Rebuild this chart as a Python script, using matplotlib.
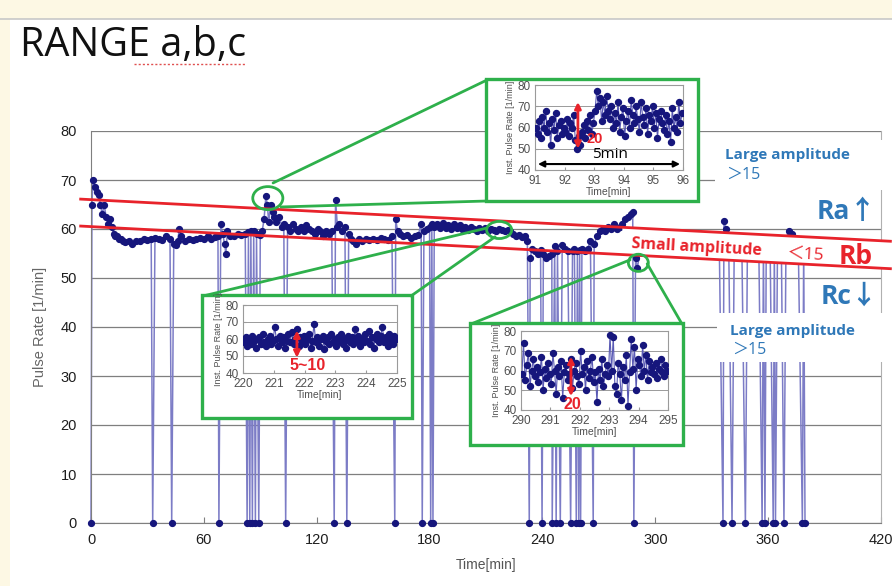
import numpy as np
import matplotlib.pyplot as plt
from matplotlib.patches import Rectangle, Ellipse, Polygon, ConnectionPatch
from matplotlib.lines import Line2D

W, H = 892, 586

# === 数据 ===
time_min = [
    0, 0.5, 1, 2, 3, 4, 5, 6, 7, 8,
    9, 10, 11, 12, 13, 14, 15, 16, 17, 18,
    20, 22, 24, 26, 28, 30, 32, 32.8, 34, 36,
    38, 40, 42, 42.9, 44, 45, 46, 47, 48, 50,
    52, 54, 56, 58, 60, 62, 64, 66, 67.5, 68,
    69, 70, 71, 71.7, 72.5, 74, 76, 78, 80, 82,
    83, 83.7, 84.4, 85, 85.8, 86.5, 87.4, 88, 89.2, 90,
    91, 92, 93, 93.7, 94.5, 95.5, 96.5, 97.5, 98.5, 100,
    101.5, 102.5, 103.5, 104.5, 106, 107.5, 109, 110, 111.5, 113,
    114.5, 116, 117.5, 119, 120.5, 122, 123.5, 125, 126.5, 128,
    129.3, 130, 131, 132, 133.5, 135, 136, 137, 138, 139.5,
    141, 142.5, 144, 146, 148, 150, 152, 154, 156, 158,
    160, 161.5, 162, 163, 164.5, 166, 168, 170, 172, 174,
    175.5, 176.1, 177, 178.5, 180, 180.6, 181.2, 181.8, 182.5, 184,
    185.5, 187, 188.5, 190, 191.5, 193, 194.5, 196, 197.5, 199,
    200.5, 202, 203.5, 205, 206.5, 208, 209.5, 211, 212.5, 214,
    215.5, 217, 218.5, 220, 221.5, 223, 224.5, 226, 227.5, 229,
    230.5, 232, 233, 233.5, 234.5, 236, 237.5, 239, 239.8, 240.5,
    242, 243.5, 245, 245.2, 246.5, 247.3, 248, 249.5, 250.5, 252,
    253.5, 255, 256, 257, 258, 258.6, 259.3, 259.8, 260.3, 261,
    262.5, 264, 265.5, 267, 267.5, 269, 270.5, 272, 273.5, 275,
    276.5, 278, 279.5, 281, 282.5, 284, 285.5, 287, 288, 288.6,
    289.5, 290.5, 292, 295, 298, 301, 304, 307, 310, 313,
    316, 319, 322, 325, 328, 331, 334, 336, 336.5, 337.5,
    339, 340.8, 342, 344, 346, 347.9, 349, 352, 355, 356.8,
    357.5, 358.3, 359, 361, 362.7, 363.3, 363.9, 365, 367, 368.4,
    369.5, 371, 372.5, 374, 376, 378.2, 378.9, 379.6,
]
pulse_rate = [
    0, 65, 70, 68.5, 67.5, 67, 65, 63, 65, 62.5,
    61, 62, 60.5, 59, 58.5, 58.5, 58, 58, 57.5, 57.3,
    57.5, 57, 57.5, 57.6, 58, 57.8, 58, 0, 58.2, 58,
    57.8, 58.5, 58, 0, 57, 56.8, 57.5, 60, 58.5, 57.5,
    58, 57.8, 58, 58.2, 58, 58.5, 58, 58.3, 58.5, 0,
    61, 59, 57, 55, 59.5, 58.5, 58.5, 59, 58.8, 59,
    0, 59.3, 0, 59.5, 0, 59.5, 0, 59, 0, 58.8,
    59.5, 62, 66.7, 65, 61.5, 65, 63.5, 62.5, 61.5, 62.5,
    60.5, 61, 0, 60.5, 59.5, 61, 60, 59.5, 60.5, 59.5,
    60.8, 60, 59.5, 59, 60, 59.5, 58.5, 59.5, 59, 59.5,
    0, 66, 60.5, 61, 59.5, 60.5, 0, 59, 58, 57.5,
    57, 58, 57.5, 58, 57.8, 58, 57.8, 58.2, 58, 57.8,
    58.5, 0, 62, 59.5, 59, 58.5, 58.8, 58.2, 58.5, 58.8,
    61, 0, 59.5, 60, 60.5, 0, 61, 0, 60.5, 61,
    60.2, 61.2, 60.3, 60.8, 60, 61, 60.2, 60.8, 60, 60.5,
    59.8, 60.5, 60, 59.6, 60.3, 59.8, 60.2, 59.5, 60, 59.8,
    59.6, 60, 59.7, 59.5, 59.8, 59.5, 59, 58.5, 58.7, 58.3,
    58.5, 57.5, 0, 54, 56, 55.5, 55, 55.8, 0, 55,
    54, 54.5, 55, 0, 56.5, 0, 55.5, 0, 56.8, 56,
    55.5, 0, 55.5, 56, 0, 55.5, 0, 55.8, 0, 56,
    55.5, 56, 57.5, 0, 57, 58.5, 59.5, 60, 59.5, 60.5,
    60, 61, 60, 60.5, 61, 62, 62.5, 63, 63.5, 0,
    54, 52, 56, 57, 57.5, 57, 57.5, 57, 57.5, 57,
    57.5, 57, 57.5, 57, 57.5, 57, 57.5, 0, 61.6, 60,
    58, 0, 58, 57.5, 57, 0, 57.5, 57, 57.5, 0,
    57, 0, 57.5, 58, 0, 57.5, 0, 58, 57.5, 0,
    58, 59.6, 59, 58, 57.5, 0, 57, 0,
]
assert len(time_min) == len(pulse_rate)

# zoomed windows (instantaneous pulse rate, evenly sampled)
zoomA_span = (91, 96)
zoomA_rate = [
    60, 57, 63, 55, 65, 60, 68, 58, 62,
    52, 64, 59, 67, 55, 61, 63, 57, 60,
    58, 64, 56, 62, 60, 66, 54, 50, 56,
    52, 58, 61, 55, 63, 59, 66, 57, 62,
    68, 77, 70, 74, 63, 72, 66, 75, 68,
    64, 70, 60, 67, 62, 72, 58, 65, 69,
    56, 63, 68, 60, 73, 66, 62, 70, 64,
    58, 72, 65, 61, 69, 57, 66, 63, 70,
    60, 67, 55, 64, 68, 62, 59, 66, 57,
    63, 53, 69, 60, 65, 58, 72, 62, 67,
]
zoomB_span = (220, 225)
zoomB_rate = [
    58, 61, 56, 60, 57, 62, 59, 55, 60,
    61, 57, 63, 58, 56, 60, 62, 57, 59,
    67, 60, 56, 62, 58, 61, 55, 59, 63,
    58, 64, 57, 60, 66, 56, 61, 58, 62,
    57, 60, 63, 55, 59, 69, 58, 61, 56,
    60, 62, 54, 59, 61, 57, 63, 58, 60,
    56, 61, 59, 63, 57, 60, 55, 62, 58,
    61, 57, 66, 59, 62, 56, 60, 58, 63,
    59, 65, 57, 61, 55, 60, 63, 58, 62,
    67, 58, 61, 56, 63, 59, 57, 62, 60,
]
zoomC_span = (290, 295)
zoomC_rate = [
    58, 74, 55, 63, 69, 52, 60, 66, 57,
    62, 54, 59, 67, 50, 61, 56, 64, 58,
    53, 69, 60, 48, 62, 57, 65, 46, 59,
    63, 55, 58, 66, 51, 60, 64, 57, 53,
    70, 58, 62, 50, 65, 56, 60, 67, 54,
    59, 44, 61, 55, 66, 52, 58, 63, 57,
    78, 60, 77, 52, 48, 64, 58, 45, 62,
    55, 68, 42, 59, 76, 61, 72, 50, 66,
    63, 57, 73, 60, 68, 55, 65, 59, 62,
    58, 64, 56, 61, 66, 59, 57, 63, 60,
]

# red range lines (Ra / Rb / Rc borders)
range_t = [-5.5, 425]
upper_line = [66.1, 57.5]
lower_line = [60.6, 51.9]

NAVY = '#16167c'
LINE = '#7c7cc6'
GREEN = '#2eb04b'
RED = '#e8232b'
BLUE = '#2f78b8'
TXT = '#1e1e1e'
SANS = ['Liberation Sans', 'DejaVu Sans']
CAL = ['Open Sans', 'Noto Sans CJK JP', 'DejaVu Sans']


def fig_rect(x0, y0, x1, y1):
    return [x0 / W, 1 - y1 / H, (x1 - x0) / W, (y1 - y0) / H]


def fpt(px, py):
    return (px / W, 1 - py / H)


fig = plt.figure(figsize=(W / 100, H / 100), dpi=100)
fig.patch.set_facecolor('#fdf8e4')
fig.patches.append(Rectangle((10 / W, 0), 1, 1 - 19 / H, transform=fig.transFigure,
                             facecolor='white', edgecolor='none', zorder=-10))
fig.lines.append(Line2D([0, 1], [1 - 18.5 / H] * 2, transform=fig.transFigure,
                        color='#c8c8c8', lw=1.2))

title = fig.text(20 / W, 1 - 46 / H, 'RANGE a,b,c', fontsize=28.5, family=CAL,
                 color='#111111', va='center', ha='left')
# red spell-check squiggle under "a,b,c"
renderer = fig.canvas.get_renderer()
tb = title.get_window_extent(renderer)
sq_x0 = (tb.x0 + 0.505 * tb.width) / W
sq_x1 = tb.x1 / W
fig.lines.append(Line2D([sq_x0, sq_x1], [1 - 64 / H] * 2, transform=fig.transFigure,
                        color='#e05050', lw=1.0, ls=(0, (1.5, 1.5))))

# === main chart ===
ax = fig.add_axes(fig_rect(91, 131, 881, 523))
ax.plot(time_min, pulse_rate, color=LINE, lw=1.1, zorder=2, clip_on=False)
ax.plot(time_min, pulse_rate, ls='none', marker='o', ms=4.2, color=NAVY, zorder=3,
        clip_on=False)
ax.set_xlim(0, 420)
ax.set_ylim(0, 80)
ax.set_xticks(range(0, 421, 60))
ax.set_yticks(range(0, 81, 10))
ax.yaxis.grid(True, color='#7f7f7f', lw=0.9)
ax.set_axisbelow(True)
for s in ['left', 'bottom']:
    ax.spines[s].set_color('#7f7f7f')
ax.spines['top'].set_visible(False)
ax.spines['right'].set_color('#b0b0b0')
ax.tick_params(axis='x', direction='in', length=4, color='#7f7f7f', pad=7,
               labelsize=10.5, labelcolor=TXT)
ax.tick_params(axis='y', length=0, pad=10, labelsize=10.5, labelcolor=TXT)
for lab in ax.get_xticklabels() + ax.get_yticklabels():
    lab.set_family(SANS)
ax.set_xlabel('Time[min]', fontsize=10, color='#555555', family=SANS, labelpad=8)
ax.set_ylabel('Pulse Rate [1/min]', fontsize=10.5, color='#666666', family=SANS, labelpad=10)

# white band behind "Small amplitude" text, and the text boxes on the right
band_t = [282.5, 425]
band_up = np.interp(band_t, range_t, upper_line)
band_lo = np.interp(band_t, range_t, lower_line)
ax.add_patch(Polygon([(band_t[0], band_up[0]), (band_t[1], band_up[1]),
                      (band_t[1], band_lo[1]), (band_t[0], band_lo[0])],
                     closed=True, facecolor='white', edgecolor='none', zorder=4, clip_on=False))
ax.add_patch(Rectangle((331.8, 68.0), 92, 10.2, facecolor='white', edgecolor='none',
                       zorder=4, clip_on=False))
ax.add_patch(Rectangle((332.8, 32.9), 92, 10.0, facecolor='white', edgecolor='none',
                       zorder=4, clip_on=False))

ax.plot(range_t, upper_line, color=RED, lw=2.0, zorder=5, clip_on=False)
ax.plot(range_t, lower_line, color=RED, lw=2.0, zorder=5, clip_on=False)

ax.text(337, 75.1, 'Large amplitude', color=BLUE, fontsize=11, fontweight='bold',
        family=CAL, va='center', ha='left', zorder=6)
ax.text(337.6, 71.0, '＞15', color=BLUE, fontsize=11.5, family=CAL, va='center', ha='left',
        zorder=6)
ax.text(339.8, 39.2, 'Large amplitude', color=BLUE, fontsize=11, fontweight='bold',
        family=CAL, va='center', ha='left', zorder=6)
ax.text(340.8, 35.3, '＞15', color=BLUE, fontsize=11.5, family=CAL, va='center', ha='left',
        zorder=6)
ax.text(401.5, 63.5, 'Ra↑', color=BLUE, fontsize=19, fontweight='bold', family=CAL,
        va='center', ha='center', zorder=6)
ax.text(403, 46.3, 'Rc↓', color=BLUE, fontsize=19, fontweight='bold', family=CAL,
        va='center', ha='center', zorder=6)
ax.text(322.2, 56.3, 'Small amplitude', color=RED, fontsize=11.5, fontweight='bold',
        family=CAL, va='center', ha='center', rotation=-3.1, rotation_mode='anchor', zorder=6)
ax.text(379.8, 54.7, '＜15', color=RED, fontsize=12.5, family=CAL, va='center', ha='center',
        rotation=-3.1, rotation_mode='anchor', zorder=6)
ax.text(406.3, 54.3, 'Rb', color=RED, fontsize=19, fontweight='bold', family=CAL,
        va='center', ha='center', zorder=6)


def add_zoom(box, plot, span, rates, arrow_t, arrow_v, amp_txt, amp_xy, amp_ha, amp_size):
    bax = fig.add_axes(fig_rect(*box))
    bax.set_axis_off()
    bax.add_patch(Rectangle((0, 0), 1, 1, transform=bax.transAxes, facecolor='white',
                            edgecolor=GREEN, lw=2.4, clip_on=False))
    iax = fig.add_axes(fig_rect(*plot))
    t0, t1 = span
    tt = np.linspace(t0 + 0.03, t1 - 0.03, len(rates))
    iax.plot(tt, rates, color='#5a5ab4', lw=0.8, zorder=2)
    iax.plot(tt, rates, ls='none', marker='o', ms=4.3, color=NAVY, zorder=3)
    iax.set_xlim(t0, t1)
    iax.set_ylim(40, 80)
    iax.set_xticks(range(t0, t1 + 1))
    iax.set_yticks(range(40, 81, 10))
    iax.yaxis.grid(True, color='#9a9a9a', lw=0.7)
    iax.set_axisbelow(True)
    for s in iax.spines.values():
        s.set_color('#9a9a9a')
        s.set_linewidth(0.8)
    iax.tick_params(length=2, direction='in', color='#9a9a9a', labelsize=8.5,
                    labelcolor='#505050')
    iax.tick_params(axis='x', pad=3.5)
    iax.tick_params(axis='y', pad=3)
    for lab in iax.get_xticklabels() + iax.get_yticklabels():
        lab.set_family(SANS)
    iax.set_xlabel('Time[min]', fontsize=7.5, color='#505050', family=SANS, labelpad=0)
    iax.set_ylabel('Inst. Pulse Rate [1/min]', fontsize=6.5, color='#505050', family=SANS,
                   labelpad=2)
    iax.annotate('', xy=(arrow_t, arrow_v[1]), xytext=(arrow_t, arrow_v[0]),
                 arrowprops=dict(arrowstyle='<|-|>', color=RED, lw=2.0, mutation_scale=9,
                                 shrinkA=0, shrinkB=0), zorder=5)
    iax.text(amp_xy[0], amp_xy[1], amp_txt, color=RED, fontsize=amp_size, fontweight='bold',
             family=SANS, va='center', ha=amp_ha, zorder=5)
    return iax


axA = add_zoom((486, 79, 698, 201), (535, 85, 683, 170), zoomA_span, zoomA_rate,
               92.45, (50, 72), '20', (92.75, 54.8), 'left', 10.5)
axA.annotate('', xy=(95.9, 42.8), xytext=(91.1, 42.8),
             arrowprops=dict(arrowstyle='<|-|>', color='black', lw=1.5, mutation_scale=9,
                             shrinkA=0, shrinkB=0), zorder=5)
axA.text(93.55, 47.2, '5min', fontsize=11, family=CAL, color='black', ha='center',
         va='center', zorder=5)
add_zoom((202, 295, 412, 418), (243, 305, 397, 373), zoomB_span, zoomB_rate,
         221.75, (49, 65), '5~10', (222.1, 44.5), 'center', 11.5)
add_zoom((470, 323, 683, 445), (521, 331, 668, 410), zoomC_span, zoomC_rate,
         291.7, (47, 67), '20', (291.75, 43.0), 'center', 11.5)

# callout ellipses on the main trace + lines to the zoom boxes
callouts = [
    ((94.0, 66.3), 16.0, 4.7, [((96.8, 69.4), (487, 80)), ((101.0, 64.5), (487, 201))]),
    ((217.0, 59.8), 13.3, 3.5, [((210.5, 60.2), (203, 296)), ((214.8, 58.4), (411, 296))]),
    ((291.0, 53.1), 10.6, 3.5, [((286.6, 53.7), (471, 324)), ((295.7, 52.9), (682, 324))]),
]
for (cx, cy), ew, eh, links in callouts:
    ax.add_patch(Ellipse((cx, cy), ew, eh, facecolor='none', edgecolor=GREEN, lw=2.0,
                         zorder=6, clip_on=False))
    for (dt, dv), (bx, by) in links:
        con = ConnectionPatch(xyA=(dt, dv), coordsA=ax.transData, xyB=fpt(bx, by),
                              coordsB=fig.transFigure, color=GREEN, lw=2.0)
        fig.add_artist(con)

fig.savefig('out.png', dpi=100, facecolor=fig.get_facecolor())
